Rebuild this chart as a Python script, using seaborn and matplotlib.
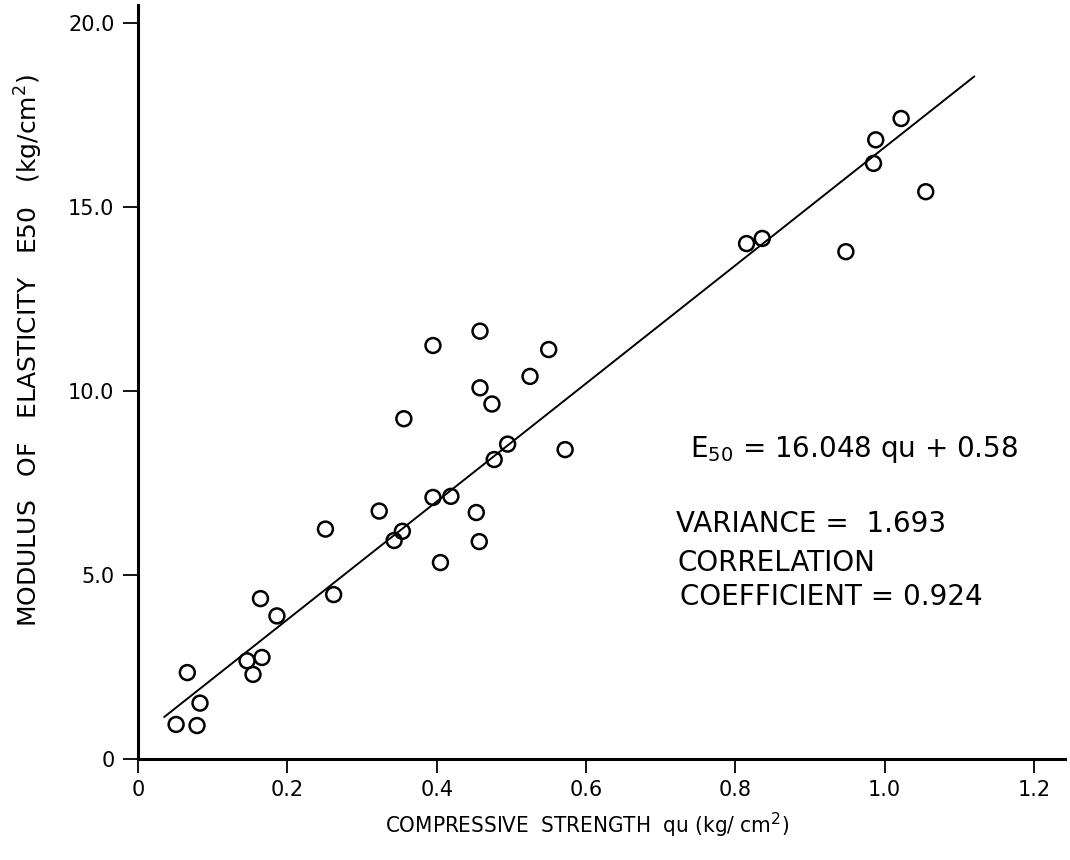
import numpy as np
import pandas as pd
import matplotlib
matplotlib.use("Agg")
import matplotlib.pyplot as plt
import seaborn as sns

# Data
qu = [0.051, 0.079, 0.083, 0.066, 0.146, 0.166, 0.154, 0.164, 0.186, 0.262,
      0.458, 0.395, 0.550, 0.525, 0.458, 0.474, 0.356, 0.495, 0.477, 0.572,
      0.395, 0.419, 0.323, 0.453, 0.251, 0.354, 0.343, 0.457, 0.405,
      1.022, 0.988, 0.985, 1.055, 0.815, 0.836, 0.948]
e50 = [0.94, 0.91, 1.52, 2.35, 2.67, 2.76, 2.30, 4.36, 3.89, 4.47,
       11.63, 11.24, 11.13, 10.40, 10.09, 9.65, 9.25, 8.56, 8.14, 8.41,
       7.11, 7.14, 6.74, 6.70, 6.25, 6.19, 5.94, 5.91, 5.34,
       17.41, 16.83, 16.19, 15.42, 14.01, 14.15, 13.79]

slope = 16.048
intercept = 0.58
fit_range = [0.035, 1.12]

x_ticks = [0, 0.2, 0.4, 0.6, 0.8, 1.0, 1.2]
x_ticklabels = ["0", "0.2", "0.4", "0.6", "0.8", "1.0", "1.2"]
y_ticks = [0, 5, 10, 15, 20]
y_ticklabels = ["0", "5.0", "10.0", "15.0", "20.0"]

sns.set_style("ticks")
plt.rcParams["font.family"] = ["DejaVu Sans"]
plt.rcParams["text.color"] = "black"
plt.rcParams["axes.labelcolor"] = "black"

fig = plt.figure(figsize=(10.7, 8.6), dpi=100)
ax = fig.add_axes([0.129, 0.1174, 0.866, 0.877])

df = pd.DataFrame({"qu": qu, "E50": e50})
fit_x = np.array(fit_range)
fit_df = pd.DataFrame({"qu": fit_x, "E50": slope * fit_x + intercept})
sns.lineplot(data=fit_df, x="qu", y="E50", ax=ax, color="black", linewidth=1.4)
sns.scatterplot(data=df, x="qu", y="E50", ax=ax, marker="o", s=115,
                facecolor="none", edgecolor="black", linewidth=1.8, zorder=3)

ax.set_xlim(0, 1.241)
ax.set_ylim(0, 20.5)
ax.set_xticks(x_ticks)
ax.set_xticklabels(x_ticklabels, fontsize=15)
ax.set_yticks(y_ticks)
ax.set_yticklabels(y_ticklabels, fontsize=15)
ax.tick_params(axis="x", direction="out", length=10, width=1.3, pad=5, colors="black")
ax.tick_params(axis="y", direction="out", length=11, width=1.3, pad=6, colors="black")
for s in ["top", "right"]:
    ax.spines[s].set_visible(False)
for s in ["left", "bottom"]:
    ax.spines[s].set_linewidth(2.2)
    ax.spines[s].set_color("black")

ax.set_xlabel("COMPRESSIVE  STRENGTH  qu (kg/ cm$^2$)", fontsize=16,
              fontstretch="condensed")
ax.xaxis.set_label_coords(0.485, -0.069)
ax.set_ylabel("MODULUS   OF   ELASTICITY   E50   (kg/cm$^2$)", fontsize=18)
ax.yaxis.set_label_coords(-0.100, 0.541)

ax.text(0.739, 8.41, "E$_{50}$ = 16.048 qu + 0.58", fontsize=20, va="center", ha="left")
ax.text(0.7205, 6.39, "VARIANCE =  1.693", fontsize=20, va="center", ha="left")
ax.text(0.723, 5.33, "CORRELATION", fontsize=20, va="center", ha="left")
ax.text(0.726, 4.41, "COEFFICIENT = 0.924", fontsize=20, va="center", ha="left")

fig.savefig("out.png", dpi=100)
